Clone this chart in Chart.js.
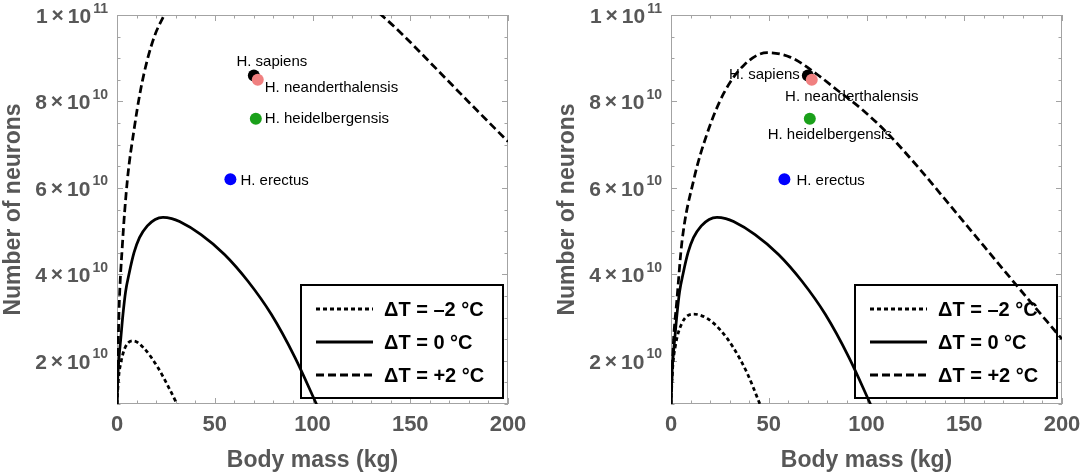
<!DOCTYPE html>
<html><head><meta charset="utf-8">
<script src="https://cdn.jsdelivr.net/npm/chart.js@4.4.1/dist/chart.umd.min.js"></script>
<style>
html,body{margin:0;padding:0;background:#fff;}
#wrap{position:relative;width:1084px;height:476px;overflow:hidden;}
.panel{position:absolute;top:0;width:530px;height:476px;}
#pL{left:0}
#pR{left:554px}
</style></head><body>
<div id="wrap">
<div class="panel" id="pL"><canvas id="cL"></canvas></div>
<div class="panel" id="pR"><canvas id="cR"></canvas></div>
</div>
<script>
// ---------- data ----------
const legendLabels = ['ΔT = –2 °C', 'ΔT = 0 °C', 'ΔT = +2 °C'];
const xTickValues = [0, 50, 100, 150, 200];
const yTickValues = [2e10, 4e10, 6e10, 8e10, 1e11];
const xTitle = 'Body mass (kg)';
const yTitle = 'Number of neurons';

const species = ['H. sapiens', 'H. neanderthalensis', 'H. heidelbergensis', 'H. erectus'];
const speciesMass = [70, 72, 71, 58];
const speciesNeurons = [8.6e10, 8.5e10, 7.6e10, 6.2e10];
const speciesColors = ['#000000', '#f08080', '#1aa01a', '#0000ff'];

// ΔT = 0 °C (same in both panels)
const massZero = [0, 0.4, 1.0, 2.0, 3.0, 4.4, 6.2, 8.7, 11.5, 15.5, 19.5, 23.5, 28, 32, 43, 55, 67, 79, 91, 102, 105];
const neuronsZero = [1.0e10, 1.6e10, 2.05e10, 2.55e10, 3.05e10, 3.6e10, 4.02e10, 4.5e10, 4.85e10, 5.12e10, 5.27e10, 5.32e10, 5.29e10, 5.22e10, 4.92e10, 4.46e10, 3.84e10, 3.07e10, 2.08e10, 1.0e10, 0.7e10];

// left panel
const massMinus2Left = [0, 0.8, 1.9, 4.4, 8.4, 13.8, 20.7, 25.8, 30.1, 33];
const neuronsMinus2Left = [1.0e10, 1.6e10, 1.94e10, 2.33e10, 2.46e10, 2.29e10, 1.86e10, 1.44e10, 1.05e10, 0.75e10];
const massPlus2Left = [0, 1.0, 2.7, 5.3, 8.7, 12, 15.5, 19.5, 24.1, 30, 40, 50, 60, 70, 80, 90, 100, 110, 120, 135.2, 146, 163, 180.5, 200];
const neuronsPlus2Left = [1.0e10, 3.1e10, 4.64e10, 6.18e10, 7.34e10, 8.25e10, 8.96e10, 9.55e10, 10.0e10, 10.6e10, 11.2e10, 11.6e10, 11.8e10, 11.85e10, 11.75e10, 11.5e10, 11.2e10, 10.87e10, 10.55e10, 10.0e10, 9.55e10, 8.77e10, 7.96e10, 7.07e10];

// right panel
const massMinus2Right = [0, 0.8, 2.2, 5.6, 11.6, 18.5, 25.3, 32.1, 39.0, 45.0, 48];
const neuronsMinus2Right = [1.0e10, 1.8e10, 2.33e10, 2.87e10, 3.08e10, 2.98e10, 2.71e10, 2.29e10, 1.71e10, 1.05e10, 0.7e10];
const massPlus2Right = [0, 1.2, 3.0, 5.6, 11.6, 18.5, 27, 37.3, 49.2, 61.2, 74, 85.1, 97.1, 110.8, 126.2, 143.2, 160.3, 177.4, 200];
const neuronsPlus2Right = [1.0e10, 2.4e10, 3.4e10, 4.75e10, 6.18e10, 7.26e10, 8.19e10, 8.84e10, 9.13e10, 9.02e10, 8.65e10, 8.26e10, 7.84e10, 7.26e10, 6.49e10, 5.57e10, 4.64e10, 3.71e10, 2.5e10];

// ---------- presentation ----------
const FONT = "'Liberation Sans', Arial, Helvetica, sans-serif";
const GRAY = '#575757';
const FRAME = '#a3a3a3';
const DASHES = [[4, 3], [], [8, 4]];
const AREA = {left: 117, top: 15, right: 508, bottom: 404};

const labelPlacementLeft = [
  {dx: 18, dy: -14, align: 'center'},
  {dx: 7, dy: 8, align: 'left'},
  {dx: 9, dy: 0, align: 'left'},
  {dx: 10, dy: 2, align: 'left'}
];
const labelPlacementRight = [
  {dx: -8, dy: -1, align: 'right'},
  {dx: 40, dy: 17, align: 'center'},
  {dx: 20, dy: 16, align: 'center'},
  {dx: 12, dy: 2, align: 'left'}
];

function sciParts(v) {
  const e = Math.floor(Math.log10(v) + 1e-9);
  const m = Math.round(v / Math.pow(10, e));
  return {m: String(m), e: String(e)};
}

function pts(xs, ys) { return xs.map((x, i) => ({x: x, y: ys[i]})); }

const panelDecor = {
  id: 'panelDecor',
  beforeDatasetsDraw(chart) {
    const ctx = chart.ctx;
    const a = chart.chartArea;
    const xs = chart.scales.x, ys = chart.scales.y;
    ctx.save();
    // frame
    ctx.strokeStyle = FRAME;
    ctx.lineWidth = 1;
    ctx.strokeRect(a.left + 0.5, a.top + 0.5, a.right - a.left - 1, a.bottom - a.top - 1);
    // ticks (inside)
    ctx.beginPath();
    for (let v = 0; v <= 200; v += 10) {
      const px = Math.round(xs.getPixelForValue(v)) + 0.5;
      const len = (v % 50 === 0) ? 6 : 3.5;
      ctx.moveTo(px, a.bottom); ctx.lineTo(px, a.bottom - len);
      ctx.moveTo(px, a.top); ctx.lineTo(px, a.top + len);
    }
    for (let k = 2; k <= 20; k++) {
      const v = k * 5e9;
      const py = Math.round(ys.getPixelForValue(v)) + 0.5;
      const len = (k % 4 === 0) ? 6 : 3.5;
      ctx.moveTo(a.left, py); ctx.lineTo(a.left + len, py);
      ctx.moveTo(a.right, py); ctx.lineTo(a.right - len, py);
    }
    ctx.stroke();

    // y tick labels in  m × 10^e  form, at the scale's own ticks
    ctx.fillStyle = GRAY;
    ctx.textBaseline = 'alphabetic';
    ctx.textAlign = 'left';
    const mainFont = 'bold 21px ' + FONT, supFont = 'bold 14px ' + FONT;
    ys.ticks.forEach(t => {
      const py = ys.getPixelForValue(t.value);
      const p = sciParts(t.value);
      ctx.font = supFont;
      const supW = ctx.measureText(p.e).width;
      ctx.font = mainFont;
      const tenW = ctx.measureText('10').width;
      const timesW = ctx.measureText('×').width;
      const mW = ctx.measureText(p.m).width;
      const R = a.left - 9;
      const supX = R - supW;
      const tenX = supX - 2 - tenW;
      const timesX = tenX - 4 - timesW;
      const mX = timesX - 4 - mW;
      ctx.fillText(p.m, mX, py + 8);
      ctx.fillText('×', timesX, py + 7);
      ctx.fillText('10', tenX, py + 8);
      ctx.font = supFont;
      ctx.fillText(p.e, supX, py - 2.5);
    });

    // legend box (transparent, bottom-right inside plot)
    const bw = 202, bh = 113;
    const bx = a.right - 5 - bw, by = a.bottom - 6 - bh;
    ctx.strokeStyle = '#000';
    ctx.lineWidth = 2;
    ctx.strokeRect(bx, by, bw, bh);
    const rows = [24, 57, 90];
    const lineDs = chart.data.datasets.filter(d => d.isCurve);
    lineDs.forEach((d, i) => {
      const yy = by + rows[i];
      ctx.beginPath();
      ctx.setLineDash(d.borderDash || []);
      ctx.lineWidth = 3;
      ctx.strokeStyle = '#000';
      ctx.moveTo(bx + 15, yy); ctx.lineTo(bx + 72, yy);
      ctx.stroke();
      ctx.setLineDash([]);
      ctx.fillStyle = '#000';
      ctx.font = 'bold 20px ' + FONT;
      ctx.textAlign = 'left';
      ctx.textBaseline = 'middle';
      ctx.fillText(d.label, bx + 83, yy + 1);
    });

    // species labels
    const opts = chart.options.plugins.panelDecor;
    const si = chart.data.datasets.findIndex(d => d.isSpecies);
    const meta = chart.getDatasetMeta(si);
    ctx.font = '15px ' + FONT;
    ctx.fillStyle = '#000';
    ctx.textBaseline = 'middle';
    meta.data.forEach((el, i) => {
      const p = opts.placement[i];
      ctx.textAlign = p.align;
      ctx.fillText(species[i], el.x + p.dx, el.y + p.dy);
    });
    ctx.restore();
  }
};

function makePanel(canvasId, mMinus, nMinus, mPlus, nPlus, placement) {
  const curveSets = [[mMinus, nMinus], [massZero, neuronsZero], [mPlus, nPlus]];
  const datasets = [{
    type: 'scatter',
    label: 'species',
    isSpecies: true,
    data: pts(speciesMass, speciesNeurons),
    pointRadius: 6,
    pointHoverRadius: 6,
    pointBorderWidth: 0,
    backgroundColor: speciesColors,
    borderColor: speciesColors,
    order: 0
  }];
  curveSets.forEach((cs, i) => {
    datasets.push({
      type: 'line',
      label: legendLabels[i],
      isCurve: true,
      data: pts(cs[0], cs[1]),
      borderColor: '#000',
      borderWidth: 2.75,
      borderDash: DASHES[i],
      pointRadius: 0,
      fill: false,
      cubicInterpolationMode: 'monotone',
      clip: 0,
      order: 1
    });
  });
  const noPad = s => { s.paddingLeft = 0; s.paddingRight = 0; s.paddingTop = 0; s.paddingBottom = 0; };
  const chart = new Chart(document.getElementById(canvasId), {
    type: 'line',
    data: {datasets: datasets},
    plugins: [panelDecor],
    options: {
      responsive: true,
      maintainAspectRatio: false,
      animation: false,
      events: [],
      layout: {padding: {top: AREA.top, right: 530 - AREA.right, left: 0, bottom: 0}},
      plugins: {
        legend: {display: false},
        tooltip: {enabled: false},
        panelDecor: {placement: placement}
      },
      scales: {
        x: {
          type: 'linear',
          min: 0, max: 200,
          afterBuildTicks: s => { s.ticks = xTickValues.map(v => ({value: v})); },
          afterFit: s => { s.height = 476 - AREA.bottom; noPad(s); },
          grid: {display: false, drawTicks: false},
          border: {display: false},
          ticks: {color: GRAY, padding: 8, font: {family: FONT, size: 22, weight: 'bold'}, maxRotation: 0},
          title: {display: true, text: xTitle, color: GRAY, font: {family: FONT, size: 23, weight: 'bold'}, padding: {top: 0, bottom: 2}}
        },
        y: {
          type: 'linear',
          min: 1e10, max: 1e11,
          afterBuildTicks: s => { s.ticks = yTickValues.map(v => ({value: v})); },
          afterFit: s => { s.width = AREA.left; noPad(s); },
          grid: {display: false, drawTicks: false},
          border: {display: false},
          ticks: {display: false},
          title: {display: true, text: yTitle, color: GRAY, font: {family: FONT, size: 23, weight: 'bold'}, padding: {top: 0, bottom: 0}}
        }
      }
    }
  });
  // nudge layout padding so that the plot area sits where the reference has it
  for (let k = 0; k < 3; k++) {
    const a = chart.chartArea;
    const p = chart.options.layout.padding;
    const d = {
      top: AREA.top - a.top,
      right: a.right - AREA.right,
      left: AREA.left - a.left,
      bottom: a.bottom - AREA.bottom
    };
    if (Math.abs(d.top) + Math.abs(d.right) + Math.abs(d.left) + Math.abs(d.bottom) < 0.5) break;
    p.top += d.top; p.right += d.right; p.left += d.left; p.bottom += d.bottom;
    chart.update();
  }
  return chart;
}

makePanel('cL', massMinus2Left, neuronsMinus2Left, massPlus2Left, neuronsPlus2Left, labelPlacementLeft);
makePanel('cR', massMinus2Right, neuronsMinus2Right, massPlus2Right, neuronsPlus2Right, labelPlacementRight);
</script>
</body></html>
